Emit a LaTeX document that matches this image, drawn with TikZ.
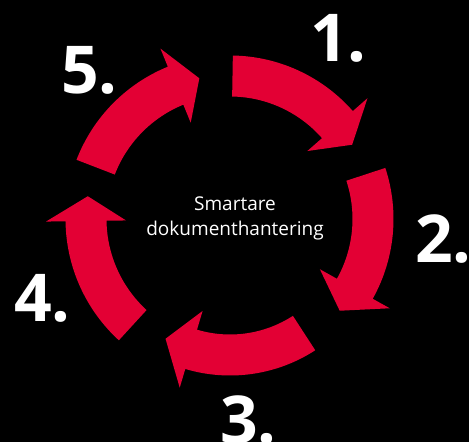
\documentclass[tikz,border=0pt]{standalone}
\usepackage{fontspec}
\setmainfont{Open Sans}
\usepackage{xcolor}
\definecolor{arrowred}{RGB}{227,0,52}

% one curved arrow of the cycle: tail angle, body end angle, tip angle, middle radius
\newcommand{\cyclearrow}[4]{%
  \fill[arrowred] (#1:{#4+20.5}) arc[start angle=#1, end angle=#2, radius={#4pt+20.5pt}]
    -- (#2:{#4+40}) -- (#3:#4) -- (#2:{#4-40}) -- (#2:{#4-20.5})
    arc[start angle=#2, end angle=#1, radius={#4pt-20.5pt}] -- cycle;}

\tikzset{
  number/.style={text=white, font=\fontsize{66}{66}\selectfont\bfseries, inner sep=0pt, anchor=base east},
  centretext/.style={text=white, font=\fontsize{19}{25}\selectfont, align=center, inner sep=0pt}
}

\begin{document}
\begin{tikzpicture}[x=1pt, y=1pt]
\useasboundingbox (-230,-223) rectangle (239,219);
\fill[black] (-230,-223) rectangle (239,219);

% Arrows
\cyclearrow{89}{41.3}{31.3}{143}
\cyclearrow{18.2}{-29.2}{-39.9}{143}
\cyclearrow{-57}{-106.6}{-118.3}{136}
\cyclearrow{-132.5}{-179.2}{-189.1}{144}
\cyclearrow{158.9}{112.2}{102.3}{144}

% Centre
\node[centretext] (centre) at (5,1) {Smartare\\dokumenthantering};

% Numbers
\node[number] (num1) at (137,157) {1.};
\node[number] (num2) at (242,-43) {2.};
\node[number] (num3) at (47,-224) {3.};
\node[number] (num4) at (-159,-102) {4.};
\node[number] (num5) at (-112,125) {5.};
\end{tikzpicture}
\end{document}
